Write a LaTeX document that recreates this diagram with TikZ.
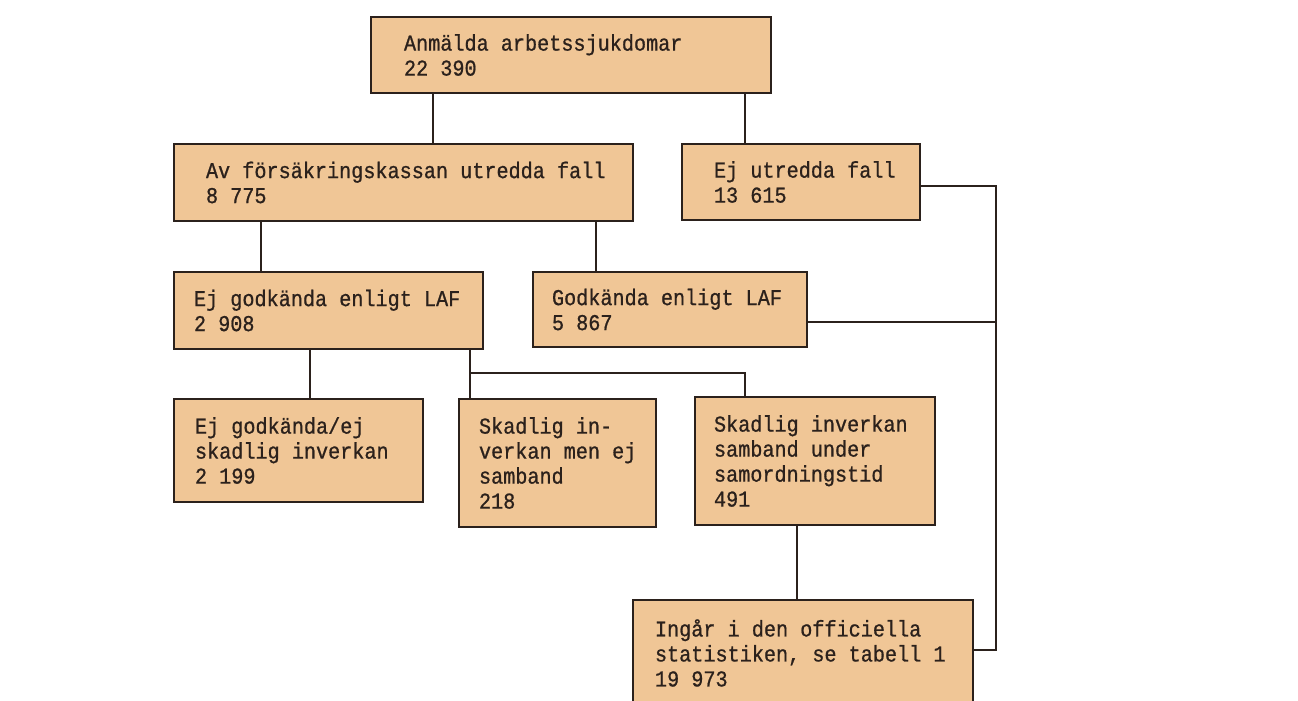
\documentclass[tikz,border=0pt]{standalone}
\usepackage{fontspec}
\newfontfamily\boxfont[FakeStretch=0.89, FakeBold=0.8]{Liberation Mono}
\usepackage{xcolor}
\usepackage{tikz}
\usetikzlibrary{positioning, fit}
\definecolor{tan}{HTML}{F0C696}
\definecolor{ink}{HTML}{2B211C}

\begin{document}
\begin{tikzpicture}[x=0.75pt, y=-0.75pt, line width=1.4pt, color=ink,
  box/.style={draw=ink, fill=tan, rectangle, inner sep=0pt},
  boxtext/.style={align=left, inner sep=0pt, text=ink, font=\boxfont\fontsize{17}{18.75}\selectfont}]
\clip (0,0) rectangle (1298,700);
\node[box, fit={(371,17) (771,93)}] (reported) {};
\node[box, fit={(174,144) (633,221)}] (investigated) {};
\node[box, fit={(682,144) (920,220)}] (uninvestigated) {};
\node[box, fit={(174,272) (483,349)}] (rejected) {};
\node[box, fit={(533,272) (807,347)}] (approved) {};
\node[box, fit={(174,399) (423,502)}] (noharm) {};
\node[box, fit={(459,399) (656,527)}] (nolink) {};
\node[box, fit={(695,397) (935,525)}] (coordtime) {};
\node[box, fit={(633,600) (973,706)}] (official) {};

\node[boxtext, right=24.75pt of reported.west] (reportedtext) {Anmälda arbetssjukdomar\\22 390};
\node[boxtext, right=24pt of investigated.west] (investigatedtext) {Av försäkringskassan utredda fall\\8 775};
\node[boxtext, right=24pt of uninvestigated.west] (uninvestigatedtext) {Ej utredda fall\\13 615};
\node[boxtext, right=15pt of rejected.west] (rejectedtext) {Ej godkända enligt LAF\\2 908};
\node[boxtext, right=14.25pt of approved.west] (approvedtext) {Godkända enligt LAF\\5 867};
\node[boxtext, right=15.75pt of noharm.west] (noharmtext) {Ej godkända/ej\\skadlig inverkan\\2 199};
\node[boxtext, right=15pt of nolink.west] (nolinktext) {Skadlig in-\\verkan men ej\\samband\\218};
\node[boxtext, right=14.25pt of coordtime.west] (coordtimetext) {Skadlig inverkan\\samband under\\samordningstid\\491};
\node[boxtext, right=16.5pt of official.west] (officialtext) {Ingår i den officiella\\statistiken, se tabell 1\\19 973};

\coordinate (split) at (470,373);
\coordinate (join) at (996,322);
\draw (433,0 |- reported.south) -- (433,0 |- investigated.north);
\draw (745,0 |- reported.south) -- (745,0 |- uninvestigated.north);
\draw (261,0 |- investigated.south) -- (261,0 |- rejected.north);
\draw (596,0 |- investigated.south) -- (596,0 |- approved.north);
\draw (310,0 |- rejected.south) -- (310,0 |- noharm.north);
\draw (470,0 |- rejected.south) -- (470,0 |- nolink.north);
\draw (split) -| (745,0 |- coordtime.north);
\draw (797,0 |- coordtime.south) -- (797,0 |- official.north);
\draw (uninvestigated.east |- 0,186) -| (join) |- (official.east |- 0,650);
\draw (approved.east |- 0,322) -- (join);
\end{tikzpicture}
\end{document}
